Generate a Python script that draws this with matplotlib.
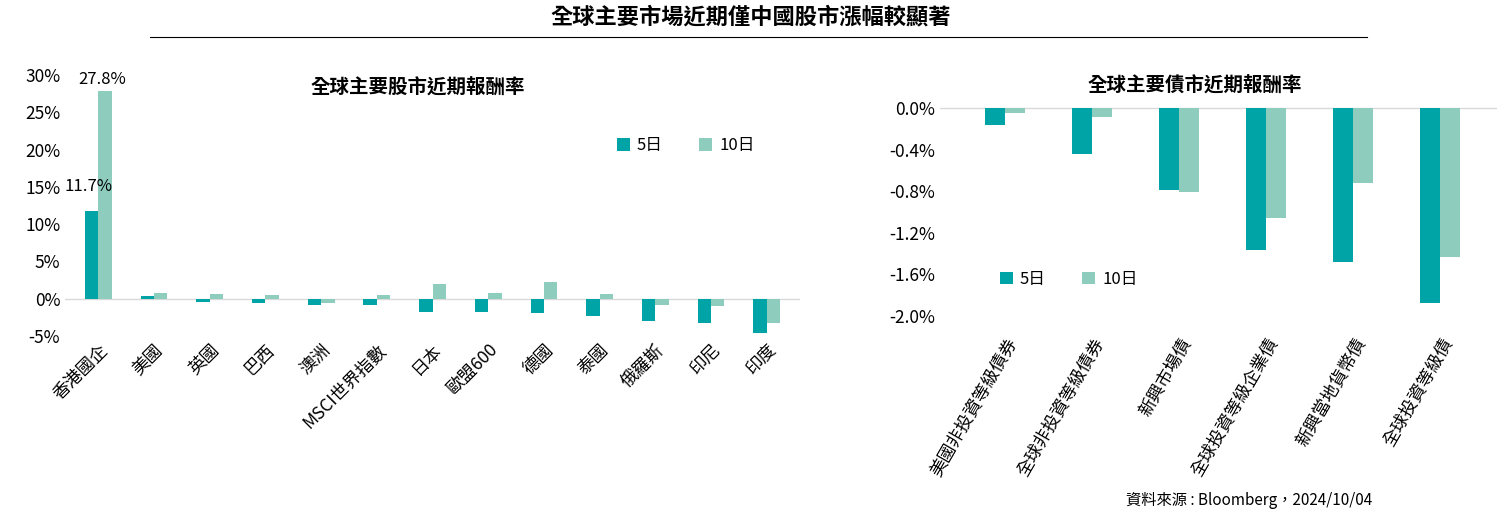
import matplotlib
matplotlib.use("Agg")
import matplotlib.pyplot as plt
import numpy as np
from matplotlib.ticker import FuncFormatter

plt.rcParams['font.family'] = ['Noto Sans CJK TC', 'DejaVu Sans']

eq_cats = ["香港國企", "美國", "英國", "巴西", "澳洲", "MSCI世界指數", "日本", "歐盟600", "德國", "泰國", "俄羅斯", "印尼", "印度"]
eq_5d = [11.7, 0.3, -0.5, -0.6, -0.8, -0.8, -1.8, -1.8, -1.9, -2.3, -3.0, -3.3, -4.6]
eq_10d = [27.8, 0.8, 0.6, 0.5, -0.6, 0.5, 2.0, 0.8, 2.2, 0.6, -0.9, -1.0, -3.3]

bd_cats = ["美國非投資等級債券", "全球非投資等級債券", "新興市場債", "全球投資等級企業債", "新興當地貨幣債", "全球投資等級債"]
bd_5d = [-0.16, -0.44, -0.79, -1.37, -1.48, -1.88]
bd_10d = [-0.05, -0.09, -0.81, -1.06, -0.72, -1.43]

C5 = "#00A3A6"
C10 = "#8ECDBE"

fig = plt.figure(figsize=(15.01, 5.17), dpi=100)
fig.text(0.5, 0.968, "全球主要市場近期僅中國股市漲幅較顯著", ha="center", va="center", fontsize=16, fontweight="bold")
fig.add_artist(plt.Line2D([150/1501, 1367/1501], [1-37/517, 1-37/517], color="black", lw=0.8))
fig.text(1372/1501, 1-500/517, "資料來源 : Bloomberg，2024/10/04", ha="right", va="center", fontsize=11)

def style(ax):
    for s in ax.spines.values():
        s.set_visible(False)
    ax.tick_params(length=0, labelsize=12.5)
    ax.axhline(0, color="#d9d9d9", lw=1, zorder=0)

w = 0.24
ax1 = fig.add_axes([65/1501, 1-336/517, 735/1501, 261/517])
x = np.arange(len(eq_cats))
ax1.bar(x - w/2, eq_5d, w, color=C5, label="5日")
ax1.bar(x + w/2, eq_10d, w, color=C10, label="10日")
ax1.set_ylim(-5, 30)
ax1.set_yticks(range(-5, 31, 5))
ax1.yaxis.set_major_formatter(FuncFormatter(lambda v, p: f"{int(v)}%"))
ax1.set_xlim(-0.6, len(eq_cats) - 0.4)
ax1.set_xticks(x)
ax1.set_xticklabels(eq_cats, rotation=45, ha="right", rotation_mode="anchor")
style(ax1)
ax1.text(x[0] - w/2 - 0.05, eq_5d[0] + 2.2, f"{eq_5d[0]}%", ha="center", va="bottom", fontsize=12)
ax1.text(x[0] + w/2 - 0.05, eq_10d[0] + 0.5, f"{eq_10d[0]}%", ha="center", va="bottom", fontsize=12)
fig.text(418/1501, 1-88/517, "全球主要股市近期報酬率", ha="center", va="center", fontsize=14, fontweight="bold")
ax1.legend(loc="upper left", bbox_to_anchor=(0.73, 0.82), ncol=2, frameon=False, fontsize=12,
           handlelength=0.8, handleheight=0.8, handletextpad=0.4, columnspacing=2.2)

w2 = 0.23
ax2 = fig.add_axes([940/1501, 1-330/517, 557/1501, 232/517])
x2 = np.arange(len(bd_cats))
ax2.bar(x2 - w2/2, bd_5d, w2, color=C5, label="5日")
ax2.bar(x2 + w2/2, bd_10d, w2, color=C10, label="10日")
ax2.set_ylim(-2.135, 0.096)
ax2.set_yticks([0, -0.4, -0.8, -1.2, -1.6, -2.0])
ax2.yaxis.set_major_formatter(FuncFormatter(lambda v, p: f"{v:.1f}%"))
ax2.set_xlim(-0.75, len(bd_cats) - 0.35)
ax2.set_xticks(x2)
ax2.set_xticklabels(bd_cats, rotation=60, ha="right", rotation_mode="anchor")
style(ax2)
fig.text(1195/1501, 1-86/517, "全球主要債市近期報酬率", ha="center", va="center", fontsize=14, fontweight="bold")
ax2.legend(loc="upper left", bbox_to_anchor=(0.08, 0.32), ncol=2, frameon=False, fontsize=12,
           handlelength=0.8, handleheight=0.8, handletextpad=0.4, columnspacing=2.2)

fig.savefig("out.png", dpi=100)
